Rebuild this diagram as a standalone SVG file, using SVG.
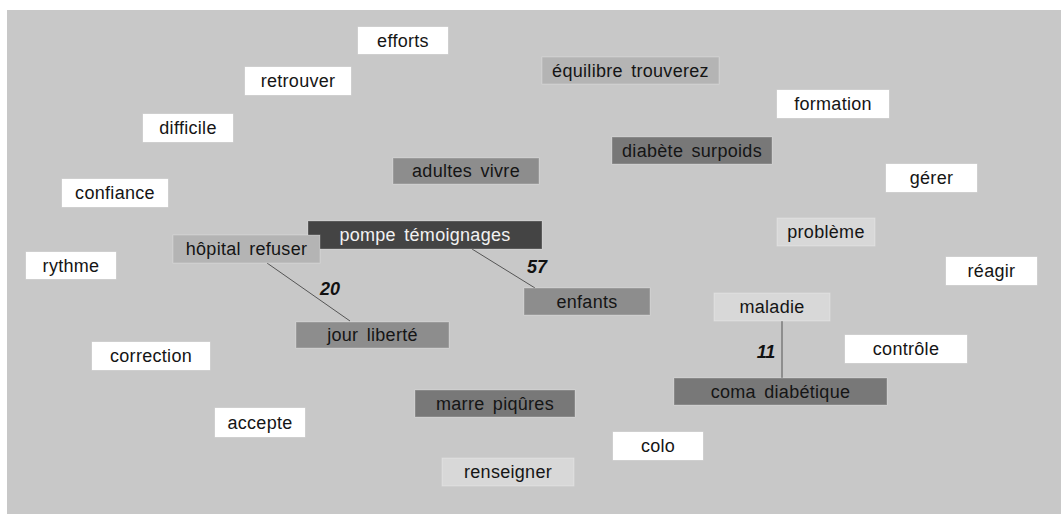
<svg xmlns="http://www.w3.org/2000/svg" width="1061" height="515" viewBox="0 0 1061 515">
<style>
.n rect{stroke:#ffffff;stroke-opacity:0.25;stroke-width:1}
.n text{font-family:"Liberation Sans",Arial,sans-serif;font-size:18px;fill:#151515;text-anchor:middle;letter-spacing:0.3px;word-spacing:3px}
.w rect{fill:#ffffff}
.l1 rect{fill:#d8d8d8}
.l2 rect{fill:#b4b4b4}
.m rect{fill:#8d8d8d}
.d rect{fill:#787878}
.k rect{fill:#444444}
.k text{fill:#f2f2f2}
.e line{stroke:#555555;stroke-width:1}
.lab{font-family:"Liberation Sans",Arial,sans-serif;font-size:18px;font-weight:bold;font-style:italic;fill:#111;text-anchor:middle}
</style>
<rect x="0" y="0" width="1061" height="515" fill="#ffffff"/>
<rect x="7" y="10" width="1054" height="504" fill="#c8c8c8"/>
<g id="connectors" class="e">
<line x1="267" y1="263" x2="350" y2="321"/>
<line x1="472" y1="249" x2="535" y2="288"/>
<line x1="782" y1="321" x2="782" y2="378"/>
<text class="lab" x="330" y="295">20</text>
<text class="lab" x="537" y="273">57</text>
<text class="lab" x="766" y="358">11</text>
</g>
<g id="efforts" class="n w"><rect x="358" y="27" width="90" height="27"/><text x="403" y="46.5">efforts</text></g>
<g id="retrouver" class="n w"><rect x="245" y="67" width="106" height="28"/><text x="298" y="87">retrouver</text></g>
<g id="difficile" class="n w"><rect x="143" y="114" width="90" height="28"/><text x="188" y="134">difficile</text></g>
<g id="confiance" class="n w"><rect x="62" y="179" width="106" height="28"/><text x="115" y="199">confiance</text></g>
<g id="equilibre" class="n l2"><rect x="542" y="57" width="177" height="27"/><text x="630.5" y="76.5">équilibre trouverez</text></g>
<g id="formation" class="n w"><rect x="777" y="90" width="112" height="28"/><text x="833" y="110">formation</text></g>
<g id="diabete" class="n d"><rect x="612" y="137" width="160" height="27"/><text x="692" y="156.5">diabète surpoids</text></g>
<g id="adultes" class="n m"><rect x="393" y="158" width="146" height="26"/><text x="466" y="177">adultes vivre</text></g>
<g id="gerer" class="n w"><rect x="886" y="164" width="91" height="28"/><text x="931.5" y="184">gérer</text></g>
<g id="pompe" class="n k"><rect x="308" y="221" width="234" height="28"/><text x="425" y="241">pompe témoignages</text></g>
<g id="hopital" class="n l2"><rect x="173" y="235" width="147" height="28"/><text x="246.5" y="255">hôpital refuser</text></g>
<g id="probleme" class="n l1"><rect x="777" y="218" width="98" height="28"/><text x="826" y="238">problème</text></g>
<g id="rythme" class="n w"><rect x="26" y="252" width="90" height="27"/><text x="71" y="271.5">rythme</text></g>
<g id="reagir" class="n w"><rect x="946" y="257" width="91" height="28"/><text x="991.5" y="277">réagir</text></g>
<g id="enfants" class="n m"><rect x="524" y="288" width="126" height="27"/><text x="587" y="307.5">enfants</text></g>
<g id="maladie" class="n l1"><rect x="714" y="293" width="116" height="28"/><text x="772" y="313">maladie</text></g>
<g id="jour" class="n m"><rect x="296" y="322" width="153" height="26"/><text x="372.5" y="341">jour liberté</text></g>
<g id="controle" class="n w"><rect x="845" y="335" width="122" height="28"/><text x="906" y="355">contrôle</text></g>
<g id="correction" class="n w"><rect x="92" y="342" width="118" height="28"/><text x="151" y="362">correction</text></g>
<g id="coma" class="n d"><rect x="674" y="378" width="213" height="27"/><text x="780.5" y="397.5">coma diabétique</text></g>
<g id="marre" class="n d"><rect x="415" y="390" width="160" height="27"/><text x="495" y="409.5">marre piqûres</text></g>
<g id="accepte" class="n w"><rect x="215" y="408" width="90" height="29"/><text x="260" y="428.5">accepte</text></g>
<g id="colo" class="n w"><rect x="613" y="432" width="90" height="28"/><text x="658" y="452">colo</text></g>
<g id="renseigner" class="n l1"><rect x="442" y="458" width="132" height="28"/><text x="508" y="478">renseigner</text></g>
</svg>
